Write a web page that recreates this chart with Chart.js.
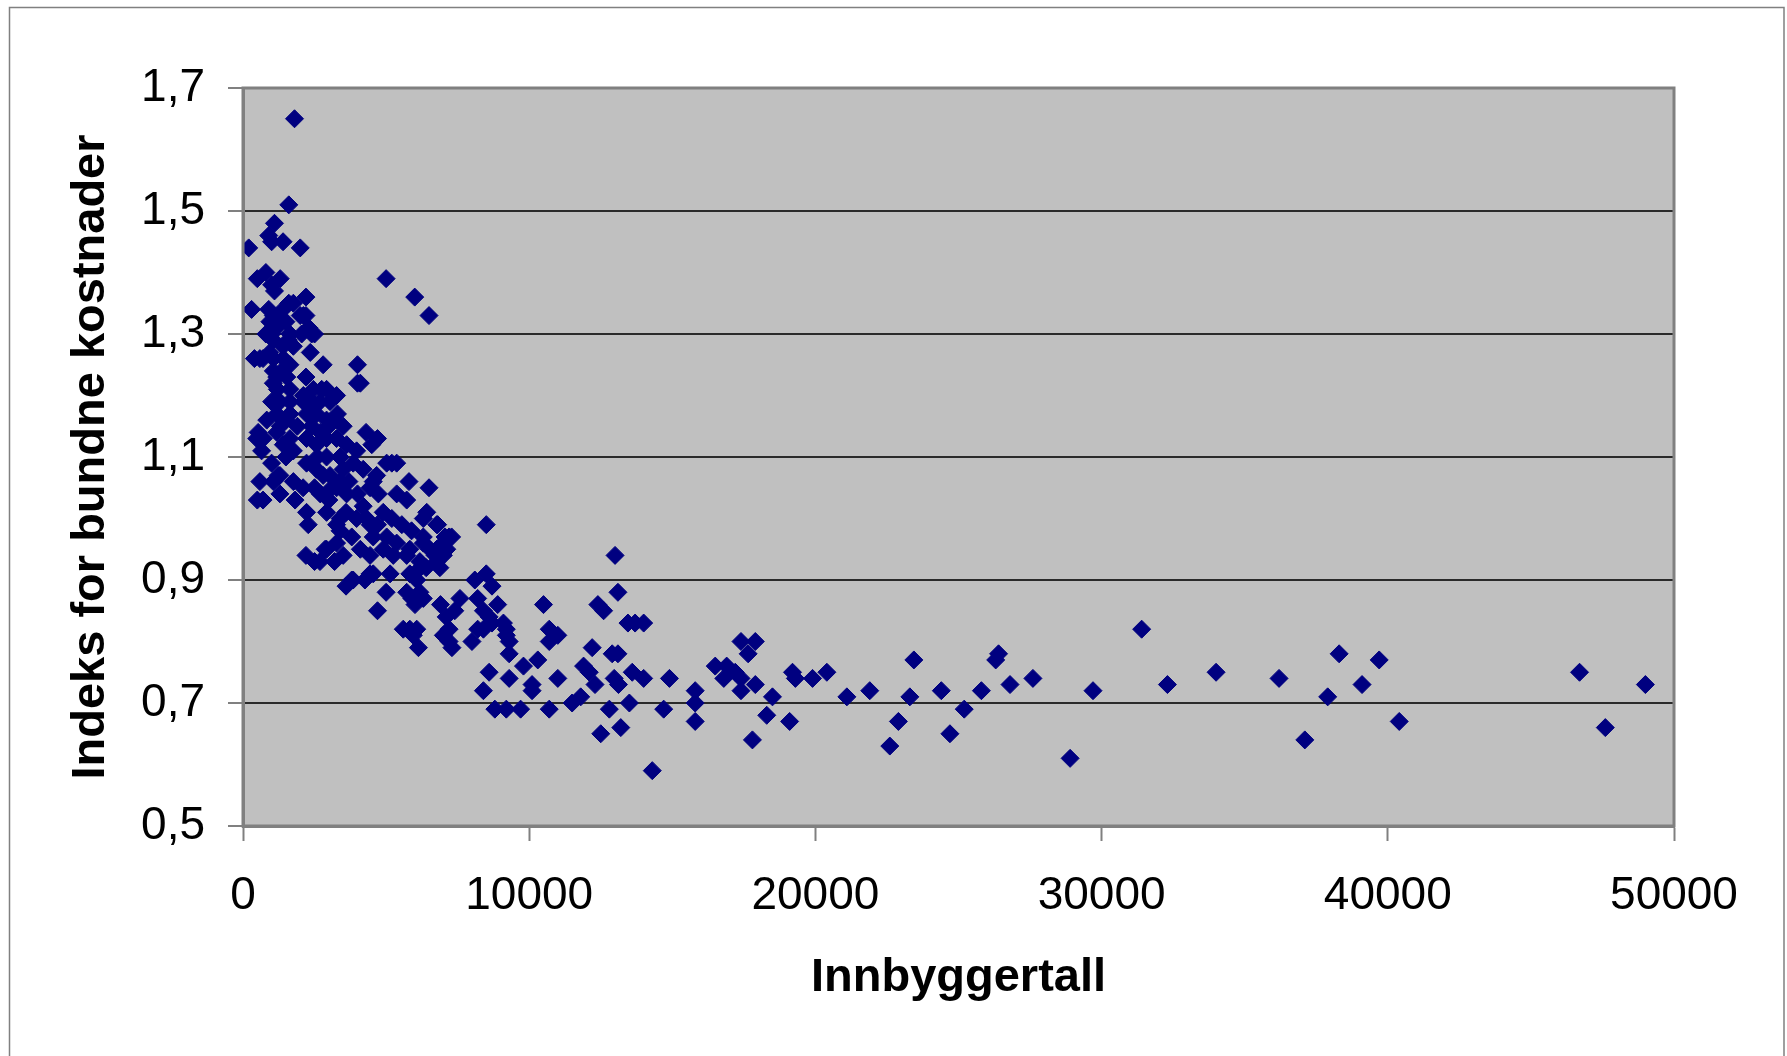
<!DOCTYPE html>
<html>
<head>
<meta charset="utf-8">
<title>Indeks for bundne kostnader</title>
<script src="https://cdn.jsdelivr.net/npm/chart.js@4.4.0/dist/chart.umd.min.js"></script>
<style>
  html, body { margin: 0; padding: 0; background: #fff; }
  #mycanvas { display: block; }
</style>
</head>
<body>
<canvas id="mycanvas" width="1787" height="1056"></canvas>
<script>
// innbyggertall (x) og indeks (y), lest av figuren – en rad i hver liste hører sammen
var innbyggertall = [
  1800,1600,1100,900,1000,1400,200,2000,800,500,
  1300,1000,1100,5000,6000,6500,300,2200,1600,1400,
  900,2000,2200,2400,2500,2300,2800,4000,4100,4000,
  400,700,2200,4300,4700,4500,940,1060,1760,2110,
  1180,1000,1640,2050,1060,1580,1760,940,2350,590,
  1060,1410,1640,1060,1350,1180,1530,1060,1640,2110,
  2460,2750,2920,3270,1000,1290,1640,2110,2400,2690,
  3040,830,1180,1640,2220,2570,2920,3160,530,710,
  480,1180,650,1640,1410,1760,2220,2570,2920,3270,
  3620,3970,5020,5370,5200,1000,1230,1760,590,1060,
  2220,2570,2920,3390,3850,4200,4550,4670,5800,5370,
  5720,4440,4730,6420,6300,8500,6770,7060,7290,4900,
  5200,5550,5890,4200,4320,4440,3970,3270,3620,3390,
  3040,2920,3390,3270,4550,5020,5370,5830,6300,6770,
  7120,4440,4900,5250,5720,6180,6770,6880,3270,2920,
  2690,3850,4440,5140,5830,6070,8100,8500,500,700,
  1290,1290,1820,2220,2280,2200,2500,2870,3390,3600,
  3800,4260,4550,5000,4700,5720,5900,6180,6300,6010,
  5830,6070,5950,6130,5600,6500,6800,7200,7000,6300,
  6530,6710,7000,6400,6200,7580,7400,7100,6900,7200,
  7000,7300,7200,8200,8400,8600,8200,8400,8700,8000,
  8700,8900,9300,9200,9200,9100,9300,8600,8400,9300,
  9700,9200,8800,10700,10100,10100,9800,10300,11000,11500,
  11800,12300,12100,11900,12200,10700,11000,10700,10500,12400,
  12600,13000,13100,13450,13700,14000,17400,17900,17650,23440,
  26400,26300,31400,12900,13100,16500,16900,16800,17200,17400,
  17400,17900,18500,18300,17800,19100,19200,19300,19900,20400,
  21100,21900,22600,22900,23300,24400,24700,25200,25800,26800,
  27600,28900,29700,14900,14700,14300,15800,15800,15800,13500,
  12800,13200,12500,13600,14000,12970,13120,32300,34000,36200,
  37100,37900,38300,39100,39700,40400,46700,47600,49000,
  1900,2400,2700,3000,3300,3500,2600,2800,3100,3500,
  3700,2500,2100,1500,1300,1500,1200,1400,1200,800,
  1500,2700,3000,3600,4000,3800,4100,3500,3200,4700
];
var indeks = [
  1.65,1.51,1.48,1.46,1.45,1.45,1.44,1.44,1.40,1.39,
  1.39,1.38,1.37,1.39,1.36,1.33,1.34,1.36,1.35,1.34,
  1.34,1.33,1.33,1.30,1.30,1.31,1.25,1.25,1.22,1.22,
  1.26,1.26,1.23,1.14,1.13,1.12,1.32,1.33,1.35,1.33,
  1.31,1.30,1.30,1.30,1.29,1.29,1.28,1.27,1.27,1.26,
  1.26,1.26,1.25,1.24,1.24,1.23,1.23,1.22,1.21,1.20,
  1.21,1.21,1.21,1.20,1.19,1.19,1.19,1.19,1.19,1.19,
  1.19,1.16,1.17,1.17,1.17,1.17,1.16,1.16,1.14,1.13,
  1.13,1.14,1.11,1.13,1.12,1.11,1.13,1.12,1.13,1.13,
  1.12,1.11,1.09,1.09,1.09,1.09,1.07,1.06,1.06,1.06,
  1.09,1.08,1.10,1.10,1.09,1.08,1.06,1.07,1.06,1.04,
  1.03,1.05,1.04,1.01,1.00,0.99,0.99,0.97,0.97,1.01,
  1.00,0.99,0.98,1.02,1.00,0.99,1.00,1.05,1.04,1.06,
  1.07,1.01,1.00,0.99,0.97,0.97,0.96,0.95,0.96,0.95,
  0.95,0.94,0.95,0.94,0.94,0.93,0.93,0.92,0.96,0.95,
  0.93,0.90,0.91,0.91,0.91,0.90,0.90,0.91,1.03,1.03,
  1.07,1.04,1.03,1.01,0.99,0.94,0.93,0.95,0.98,0.89,
  0.90,0.90,0.91,0.88,0.85,0.88,0.87,0.88,0.87,0.86,
  0.82,0.82,0.81,0.79,0.82,1.05,0.99,0.97,0.96,0.97,
  0.95,0.94,0.94,0.92,0.92,0.87,0.85,0.84,0.86,0.82,
  0.81,0.79,0.80,0.87,0.85,0.84,0.82,0.82,0.83,0.80,
  0.89,0.86,0.80,0.81,0.82,0.83,0.78,0.75,0.72,0.74,
  0.69,0.69,0.69,0.69,0.73,0.72,0.76,0.77,0.74,0.70,
  0.71,0.73,0.75,0.76,0.79,0.82,0.81,0.80,0.86,0.86,
  0.85,0.94,0.88,0.83,0.83,0.83,0.80,0.80,0.78,0.77,
  0.78,0.77,0.82,0.78,0.78,0.76,0.76,0.74,0.75,0.74,
  0.72,0.73,0.71,0.68,0.64,0.67,0.75,0.74,0.74,0.75,
  0.71,0.72,0.63,0.67,0.71,0.72,0.65,0.69,0.72,0.73,
  0.74,0.61,0.72,0.74,0.69,0.59,0.72,0.70,0.67,0.70,
  0.69,0.66,0.65,0.75,0.74,0.74,0.73,0.73,0.75,0.74,
  0.64,0.71,0.78,0.73,0.77,0.67,0.75,0.66,0.73,
  1.15,1.15,1.14,1.15,1.17,1.15,1.10,1.07,1.05,1.08,
  1.06,1.05,1.05,1.10,1.15,1.16,1.21,1.28,1.32,1.30,
  1.32,1.04,1.03,1.01,1.04,0.97,0.95,0.94,0.93,0.99
];

// akser
var xMin = 0, xMax = 50000, xStep = 10000;
var yMin = 0.5, yMax = 1.7, yStep = 0.2;
var xTittel = 'Innbyggertall';
var yTittel = 'Indeks for bundne kostnader';

var punkter = [];
for (var i = 0; i < innbyggertall.length; i++) {
  punkter.push({ x: innbyggertall[i], y: indeks[i] });
}

// grå plottflate og ramme som i Excel
var plotBakgrunn = {
  id: 'plotBakgrunn',
  beforeDraw: function(chart) {
    var a = chart.chartArea, ctx = chart.ctx;
    ctx.save();
    ctx.fillStyle = '#ffffff';
    ctx.fillRect(0, 0, chart.width, chart.height);
    ctx.fillStyle = '#c0c0c0';
    ctx.fillRect(a.left, a.top, a.right - a.left, a.bottom - a.top);
    ctx.restore();
  },
  afterDraw: function(chart) {
    var a = chart.chartArea, ctx = chart.ctx;
    ctx.save();
    ctx.strokeStyle = '#808080';
    ctx.lineWidth = 3;
    ctx.strokeRect(a.left, a.top, a.right - a.left, a.bottom - a.top);
    // ytre ramme, åpen nederst
    ctx.lineWidth = 1.5;
    ctx.beginPath();
    ctx.moveTo(9.5, chart.height);
    ctx.lineTo(9.5, 7.5);
    ctx.lineTo(chart.width - 3, 7.5);
    ctx.lineTo(chart.width - 3, chart.height);
    ctx.stroke();
    ctx.restore();
  }
};

var font = 'Liberation Sans, Arial, sans-serif';
var ctx = document.getElementById('mycanvas');
var scatterChart = new Chart(ctx, {
  type: 'scatter',
  data: {
    datasets: [{
      label: 'Kommuner',
      data: punkter,
      pointStyle: 'rectRot',
      pointRadius: 9,
      pointHoverRadius: 9,
      backgroundColor: '#000080',
      borderColor: '#000080',
      borderWidth: 1
    }]
  },
  options: {
    responsive: false,
    animation: false,
    events: [],
    layout: { padding: { left: 40, top: 88, right: 113, bottom: 30 } },
    plugins: {
      legend: { display: false },
      tooltip: { enabled: false }
    },
    scales: {
      x: {
        type: 'linear',
        min: xMin, max: xMax,
        afterFit: function(scale) { scale.height = 200; },
        ticks: {
          stepSize: xStep,
          color: '#000',
          padding: 28,
          maxRotation: 0,
          font: { family: font, size: 46 },
          callback: function(v) { return String(v); }
        },
        grid: { drawOnChartArea: false, drawTicks: true, tickLength: 15, tickColor: '#808080', tickWidth: 2 },
        border: { display: true, color: '#808080', width: 3 },
        title: {
          display: true, text: xTittel, color: '#000',
          font: { family: font, size: 47, weight: 'bold' },
          padding: { top: 0, bottom: 20 }
        }
      },
      y: {
        type: 'linear',
        min: yMin, max: yMax,
        afterFit: function(scale) { scale.width = 203; },
        ticks: {
          stepSize: yStep,
          color: '#000',
          padding: 23,
          font: { family: font, size: 46 },
          callback: function(v) { return v.toFixed(1).replace('.', ','); }
        },
        grid: { color: '#2a2a2a', lineWidth: 2, drawTicks: true, tickLength: 15, tickColor: '#808080', tickWidth: 2 },
        border: { display: true, color: '#808080', width: 3 },
        title: {
          display: true, text: yTittel, color: '#000',
          font: { family: font, size: 47, weight: 'bold' },
          padding: { top: 23, bottom: 0 }
        }
      }
    }
  },
  plugins: [plotBakgrunn]
});
</script>
</body>
</html>
